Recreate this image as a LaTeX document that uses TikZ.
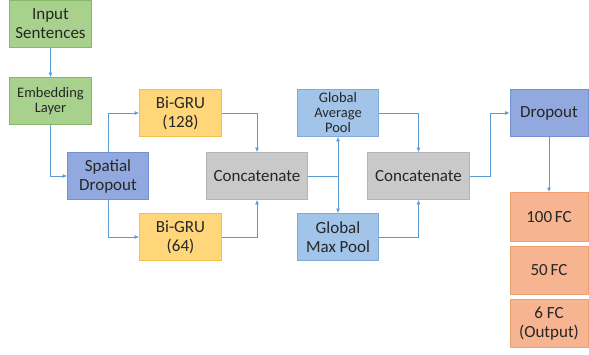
\documentclass[tikz,border=0pt]{standalone}
\usepackage{fontspec}
\setmainfont{Carlito}
\usetikzlibrary{arrows.meta}
\definecolor{grnF}{HTML}{A9D18E}\definecolor{grnD}{HTML}{86B86A}
\definecolor{orF}{HTML}{FFD67A}\definecolor{orD}{HTML}{F5C04A}
\definecolor{blF}{HTML}{91A9DE}\definecolor{blD}{HTML}{7390D0}
\definecolor{lbF}{HTML}{A2C4E8}\definecolor{lbD}{HTML}{80AAD8}
\definecolor{grF}{HTML}{C9C9C9}\definecolor{grD}{HTML}{B3B3B3}
\definecolor{saF}{HTML}{F6B590}\definecolor{saD}{HTML}{EFA070}
\definecolor{arr}{HTML}{5B9BD5}
\tikzset{
  box/.style={draw, line width=0.8pt, rectangle, align=center, inner sep=1pt,
    font=\fontsize{17}{19}\selectfont, text=black!85},
  small/.style={font=\fontsize{14.5}{15}\selectfont},
  grn/.style={box, fill=grnF, draw=grnD},
  org/.style={box, fill=orF, draw=orD},
  blu/.style={box, fill=blF, draw=blD},
  lbl/.style={box, fill=lbF, draw=lbD},
  gry/.style={box, fill=grF, draw=grD},
  sal/.style={box, fill=saF, draw=saD},
  conn/.style={draw=arr, line width=0.8pt, -{Latex[length=4.5pt,width=4pt]}},
  plain/.style={draw=arr, line width=0.8pt}
}
\begin{document}
\begin{tikzpicture}[x=1pt,y=-1pt]
\useasboundingbox (0,0) rectangle (589,354);
\node[grn, minimum width=82pt, minimum height=47pt] (in) at (50.5,24) {Input\\Sentences};
\node[grn, small, minimum width=82pt, minimum height=47pt] (emb) at (50.5,101) {Embedding\\Layer};
\node[blu, minimum width=81pt, minimum height=47pt] (sd) at (108,176) {Spatial\\Dropout};
\node[org, minimum width=82pt, minimum height=47pt] (g1) at (180.5,113) {Bi-GRU\\(128)};
\node[org, minimum width=82pt, minimum height=47pt] (g2) at (180.5,237) {Bi-GRU\\(64)};
\node[gry, minimum width=101pt, minimum height=47pt] (c1) at (257,176) {Concatenate};
\node[lbl, small, minimum width=81pt, minimum height=47pt] (gap) at (338,113) {Global\\Average\\Pool};
\node[lbl, minimum width=81pt, minimum height=47pt] (gmp) at (338,237) {Global\\Max Pool};
\node[gry, minimum width=102pt, minimum height=47pt] (c2) at (418.5,176) {Concatenate};
\node[blu, minimum width=78pt, minimum height=47pt] (dr) at (549,113) {Dropout};
\node[sal, minimum width=78pt, minimum height=49pt] (f1) at (549,217) {100\,FC};
\node[sal, minimum width=78pt, minimum height=48pt] (f2) at (549,270.5) {50\,FC};
\node[sal, minimum width=78pt, minimum height=48pt] (f3) at (549,323.5) {6 FC\\(Output)};
\coordinate (j) at (338,176);
\coordinate (k) at (490,176);
\draw[conn] (in) -- (emb);
\draw[conn] (emb.south) |- (sd.west);
\draw[conn] (sd.north) |- (g1.west);
\draw[conn] (sd.south) |- (g2.west);
\draw[conn] (g1.east) -| (c1.north);
\draw[conn] (g2.east) -| (c1.south);
\draw[plain] (c1.east) -- (j);
\draw[conn] (j) -- (gap.south);
\draw[conn] (j) -- (gmp.north);
\draw[conn] (gap.east) -| (c2.north);
\draw[conn] (gmp.east) -| (c2.south);
\draw[conn] (c2.east) -- (k) |- (dr.west);
\draw[conn] (dr) -- (f1);
\end{tikzpicture}
\end{document}
